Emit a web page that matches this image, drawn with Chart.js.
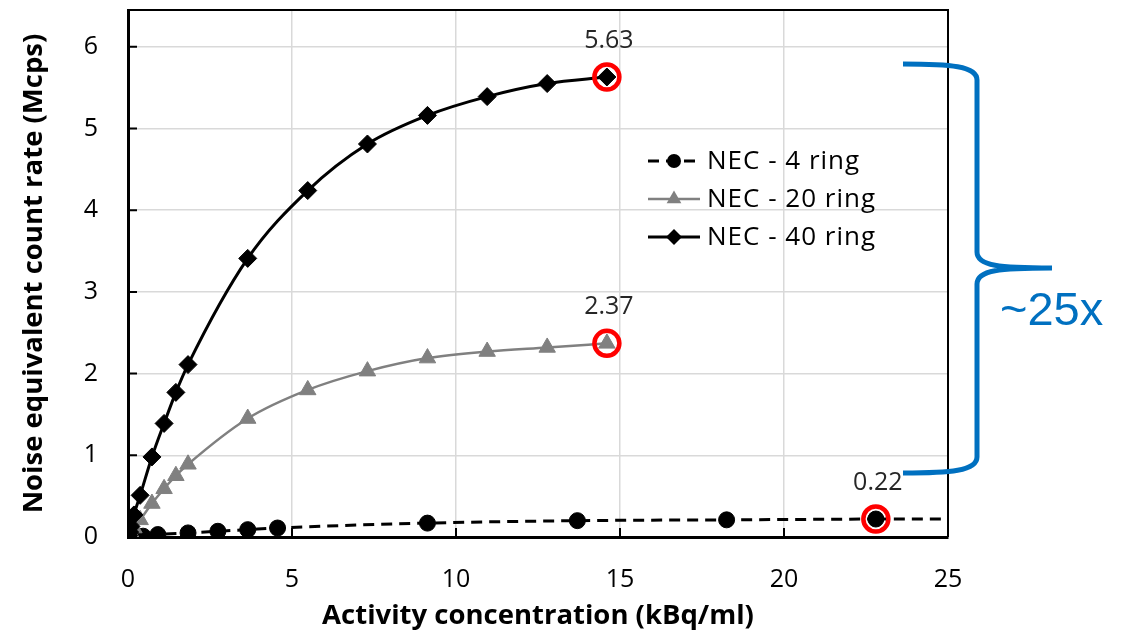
<!DOCTYPE html>
<html>
<head>
<meta charset="utf-8">
<title>NEC vs activity concentration</title>
<script src="https://cdn.jsdelivr.net/npm/chart.js@4.4.0/dist/chart.umd.min.js"></script>
<style>
  html, body { margin: 0; padding: 0; background: #fff; }
  #wrap { width: 1128px; height: 637px; }
</style>
</head>
<body>
<div id="wrap"><canvas id="nec" width="1128" height="637"></canvas></div>
<script>
// Activity concentration (kBq/ml) vs noise equivalent count rate (Mcps)
const ring4X = [0.05, 0.46, 0.91, 1.83, 2.74, 3.65, 4.56, 9.13, 13.7, 18.25, 22.8];
const ring4Y = [0.03, 0.01, 0.03, 0.05, 0.07, 0.09, 0.11, 0.17, 0.20, 0.21, 0.22];
// dashed 4-ring line runs on to the right edge of the plot
const ring4TailX = [22.8, 25];
const ring4TailY = [0.22, 0.22];

const ringX = [0.02, 0.05, 0.09, 0.18, 0.37, 0.73, 1.10, 1.46, 1.83, 3.65, 5.48, 7.30, 9.13, 10.95, 12.78, 14.6];
const ring20Y = [0.01, 0.03, 0.05, 0.11, 0.21, 0.41, 0.59, 0.75, 0.89, 1.45, 1.80, 2.03, 2.19, 2.27, 2.32, 2.37];
const ring40Y = [0.02, 0.06, 0.13, 0.27, 0.51, 0.98, 1.39, 1.77, 2.11, 3.41, 4.24, 4.81, 5.16, 5.39, 5.55, 5.63];

const xTicks = [0, 5, 10, 15, 20, 25];
const yTicks = [0, 1, 2, 3, 4, 5, 6];

const seriesNames = ['NEC - 4 ring', 'NEC - 20 ring', 'NEC - 40 ring'];

const FONT = '"Open Sans", "Noto Sans", sans-serif';
const GREY = '#808080';
const RING_RED = '#ff0000';
const BRACE_BLUE = '#0070c0';
const PLOT_TOP = 10;

const toPoints = (xs, ys) => xs.map((x, i) => ({ x, y: ys[i] }));
const lastPoint = (xs, ys) => [{ x: xs[xs.length - 1], y: ys[ys.length - 1] }];

const ring40 = {
  label: seriesNames[2],
  data: toPoints(ringX, ring40Y),
  borderColor: '#000',
  backgroundColor: '#000',
  borderWidth: 3,
  pointStyle: 'rectRot',
  pointRadius: 9,
  pointBorderWidth: 1,
  cubicInterpolationMode: 'monotone',
  showLine: true,
};
const ring20 = {
  label: seriesNames[1],
  data: toPoints(ringX, ring20Y),
  borderColor: GREY,
  backgroundColor: GREY,
  borderWidth: 2.5,
  pointStyle: 'triangle',
  pointRadius: 9.5,
  pointBorderWidth: 1,
  cubicInterpolationMode: 'monotone',
  showLine: true,
};
const ring4 = {
  label: seriesNames[0],
  data: toPoints(ring4X, ring4Y),
  borderColor: '#000',
  backgroundColor: '#000',
  borderWidth: 3,
  borderDash: [11, 7],
  pointStyle: 'circle',
  pointRadius: 8,
  pointBorderWidth: 1,
  cubicInterpolationMode: 'monotone',
  showLine: true,
};
const ring4Tail = {
  label: 'tail',
  data: toPoints(ring4TailX, ring4TailY),
  borderColor: '#000',
  borderWidth: 3,
  borderDash: [11, 7],
  pointRadius: 0,
  showLine: true,
};

// red rings around the end point of each series
const highlight = (xs, ys) => ({
  label: 'highlight',
  data: lastPoint(xs, ys),
  pointStyle: 'circle',
  pointRadius: 12.5,
  pointBorderWidth: 4.5,
  borderColor: RING_RED,
  backgroundColor: 'rgba(0,0,0,0)',
  showLine: false,
});

const legendStyles = [ring4, ring20, ring40];

function drawMarker(ctx, style, x, y, r, color) {
  ctx.save();
  ctx.fillStyle = color;
  ctx.beginPath();
  if (style === 'circle') {
    ctx.arc(x, y, r, 0, Math.PI * 2);
  } else if (style === 'triangle') {
    for (let k = 0; k < 3; k++) {
      const a = k * 2 * Math.PI / 3;
      const px = x + Math.sin(a) * r;
      const py = y - Math.cos(a) * r;
      k === 0 ? ctx.moveTo(px, py) : ctx.lineTo(px, py);
    }
    ctx.closePath();
  } else {
    ctx.moveTo(x, y - r);
    ctx.lineTo(x + r, y);
    ctx.lineTo(x, y + r);
    ctx.lineTo(x - r, y);
    ctx.closePath();
  }
  ctx.fill();
  ctx.restore();
}

const decorations = {
  id: 'decorations',
  // pin the top of the plot area so the label padding does not move it
  afterLayout(chart) {
    const area = chart.chartArea;
    const y = chart.scales.y;
    if (area.top !== PLOT_TOP) {
      area.top = PLOT_TOP;
      area.height = area.bottom - area.top;
      y.top = PLOT_TOP;
      y.height = y.bottom - y.top;
      y.configure();
    }
  },
  beforeDatasetsDraw(chart) {
    const { ctx, chartArea: area, scales } = chart;
    ctx.save();
    ctx.strokeStyle = '#000';
    ctx.lineWidth = 2;
    // inward tick marks
    ctx.beginPath();
    yTicks.forEach((v) => {
      const py = scales.y.getPixelForValue(v);
      ctx.moveTo(area.left, py);
      ctx.lineTo(area.left + 9, py);
    });
    xTicks.forEach((v) => {
      const px = scales.x.getPixelForValue(v);
      ctx.moveTo(px, area.bottom);
      ctx.lineTo(px, area.bottom - 9);
    });
    ctx.stroke();
    // top and right frame
    ctx.beginPath();
    ctx.moveTo(area.left, area.top);
    ctx.lineTo(area.right, area.top);
    ctx.lineTo(area.right, area.bottom);
    ctx.stroke();
    ctx.restore();
  },
  afterDatasetsDraw(chart) {
    const { ctx } = chart;
    ctx.save();
    // end-point value labels
    ctx.font = '25px ' + FONT;
    ctx.fillStyle = '#262626';
    ctx.textAlign = 'center';
    ctx.textBaseline = 'middle';
    chart.data.datasets.forEach((ds, i) => {
      if (!seriesNames.includes(ds.label)) return;
      const meta = chart.getDatasetMeta(i);
      const pt = meta.data[meta.data.length - 1];
      const val = ds.data[ds.data.length - 1].y;
      ctx.fillText(val.toFixed(2), pt.x + 2, pt.y - 36);
    });

    // legend inside the plot
    const lx = 648, ly = 161, step = 38;
    ctx.font = '26px ' + FONT;
    ctx.letterSpacing = '1px';
    ctx.fillStyle = '#000';
    ctx.textAlign = 'left';
    legendStyles.forEach((ds, i) => {
      const y = ly + i * step;
      ctx.save();
      ctx.strokeStyle = ds.borderColor;
      ctx.lineWidth = ds.borderWidth;
      ctx.setLineDash(ds.borderDash || []);
      ctx.beginPath();
      ctx.moveTo(lx, y);
      ctx.lineTo(lx + 52, y);
      ctx.stroke();
      ctx.restore();
      drawMarker(ctx, ds.pointStyle, lx + 26, y, ds.pointRadius - 1, ds.backgroundColor);
      ctx.fillText(ds.label, lx + 59, y + 1);
    });
    ctx.restore();
  },
  afterDraw(chart) {
    const { ctx } = chart;
    // curly brace spanning the 40-ring to 4-ring gap
    const x0 = 903, xs = 977, xt = 1052;
    const top = 64, tip = 268, bot = 473;
    ctx.save();
    ctx.strokeStyle = BRACE_BLUE;
    ctx.lineWidth = 5;
    ctx.lineCap = 'butt';
    ctx.beginPath();
    ctx.moveTo(x0, top);
    ctx.bezierCurveTo(950, top, xs, top + 2, xs, top + 16);
    ctx.lineTo(xs, tip - 16);
    ctx.bezierCurveTo(xs, tip - 2, 1000, tip, xt, tip);
    ctx.moveTo(xt, tip);
    ctx.bezierCurveTo(1000, tip, xs, tip + 2, xs, tip + 16);
    ctx.lineTo(xs, bot - 16);
    ctx.bezierCurveTo(xs, bot - 2, 950, bot, x0, bot);
    ctx.stroke();
    ctx.font = '47px "Liberation Sans", Arial, sans-serif';
    ctx.fillStyle = BRACE_BLUE;
    ctx.textAlign = 'left';
    ctx.textBaseline = 'alphabetic';
    ctx.fillText('~25x', 1000, 325);
    ctx.restore();
  },
};

new Chart(document.getElementById('nec'), {
  type: 'scatter',
  data: {
    datasets: [
      highlight(ringX, ring40Y),
      highlight(ringX, ring20Y),
      highlight(ring4X, ring4Y),
      ring40,
      ring20,
      ring4,
      ring4Tail,
    ],
  },
  options: {
    responsive: false,
    devicePixelRatio: 1,
    animation: false,
    layout: { padding: { top: PLOT_TOP, right: 180, left: 0, bottom: 0 } },
    plugins: {
      legend: { display: false },
      tooltip: { enabled: false },
    },
    scales: {
      x: {
        type: 'linear',
        min: 0,
        max: 25,
        afterBuildTicks: (scale) => { scale.ticks = xTicks.map((v) => ({ value: v })); },
        afterFit: (scale) => {
          scale.height = 100;
        },
        ticks: { color: '#000', font: { family: FONT, size: 25 }, padding: 28 },
        grid: { color: '#d9d9d9', lineWidth: 1.5, drawTicks: false },
        border: { color: '#000', width: 3 },
        title: {
          display: true,
          text: 'Activity concentration (kBq/ml)',
          color: '#000',
          font: { family: FONT, size: 27.5, weight: 'bold' },
          padding: { top: 0, bottom: 4 },
        },
      },
      y: {
        type: 'linear',
        min: 0,
        max: 6.45,
        afterBuildTicks: (scale) => { scale.ticks = yTicks.map((v) => ({ value: v })); },
        afterFit: (scale) => {
          scale.width = 128;
        },
        ticks: { color: '#000', font: { family: FONT, size: 25 }, padding: 30 },
        grid: { color: '#d9d9d9', lineWidth: 1.5, drawTicks: false },
        border: { color: '#000', width: 3 },
        title: {
          display: true,
          text: 'Noise equivalent count rate (Mcps)',
          color: '#000',
          font: { family: FONT, size: 27.5, weight: 'bold' },
          padding: { top: 18, bottom: 0 },
        },
      },
    },
  },
  plugins: [decorations],
});
</script>
</body>
</html>
